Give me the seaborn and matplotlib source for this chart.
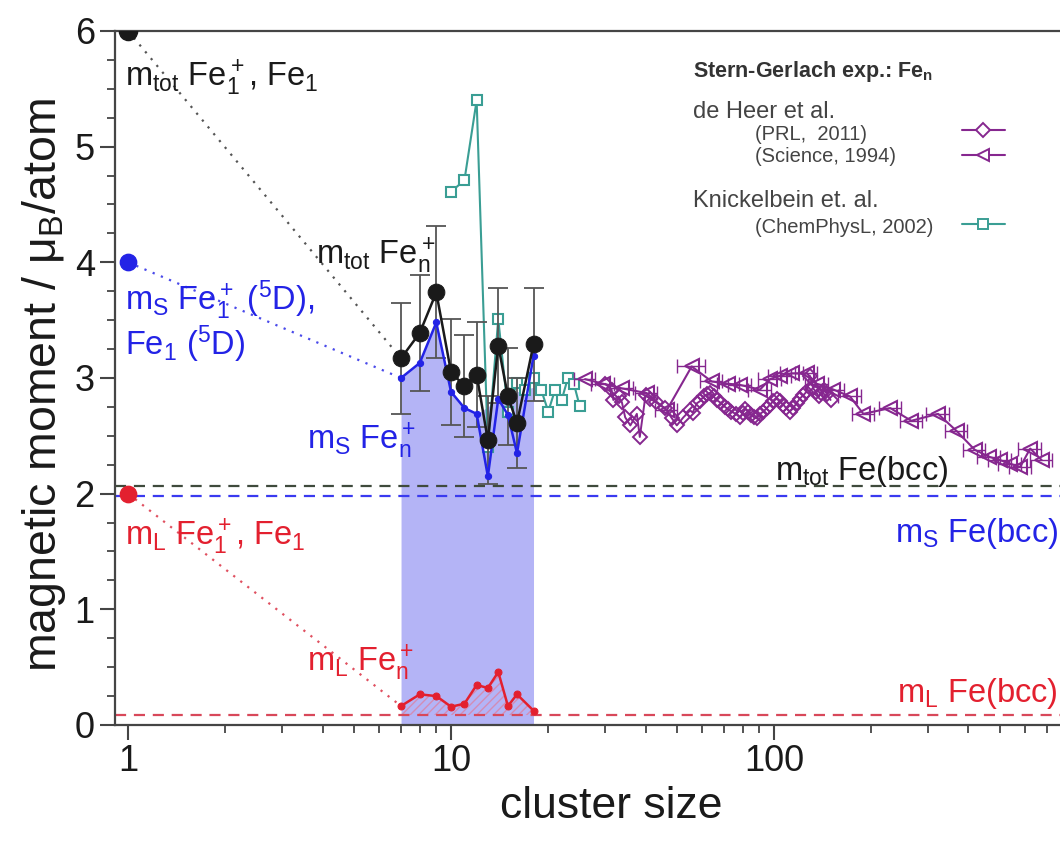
import numpy as np
import pandas as pd
import matplotlib
matplotlib.use("Agg")
import matplotlib.pyplot as plt
import seaborn as sns
from matplotlib.lines import Line2D
from matplotlib.ticker import FixedLocator, FuncFormatter, LogLocator, MultipleLocator, NullFormatter

# ---------------- data ----------------
n_atom = [1]
m_tot_atom = [6.0]
m_s_atom = [4.0]
m_l_atom = [2.0]

n_cluster = [7, 8, 9, 10, 11, 12, 13, 14, 15, 16, 18]
m_tot = [3.17, 3.39, 3.74, 3.05, 2.93, 3.03, 2.46, 3.28, 2.84, 2.61, 3.29]
m_tot_err = [0.48, 0.50, 0.57, 0.46, 0.44, 0.45, 0.38, 0.50, 0.42, 0.39, 0.49]
m_s = [3.00, 3.13, 3.48, 2.88, 2.74, 2.69, 2.15, 2.82, 2.68, 2.35, 3.19]
m_l = [0.164, 0.265, 0.25, 0.158, 0.184, 0.346, 0.32, 0.458, 0.164, 0.265, 0.124]
shade_top = [3.00, 3.13, 3.48, 2.88, 2.74, 2.69, 2.75, 2.82, 2.85, 2.88, 2.92]

bcc_tot = 2.07
bcc_s = 1.98
bcc_l = 0.086

n_knick = [10, 11, 12, 13, 14, 15, 16, 17, 18, 19, 20, 21, 22, 23, 24, 25]
m_knick = [4.61, 4.71, 5.40, 2.40, 3.51, 2.71, 2.96, 2.90, 3.00, 2.90, 2.71, 2.90, 2.81, 3.00, 2.95, 2.76]

n_prl = [30, 31.4, 31.8, 33, 33.8, 34.6, 35.9, 37.6, 38.4, 40, 41.4, 43, 46, 48.3, 50,
         52.4, 55, 56, 57.6, 59, 60.5, 62, 63.4, 65, 66.4, 68, 70.5, 72, 73.8, 76, 78.5,
         80, 81.5, 83.3, 85, 86.8, 88.5, 90.5, 92.7, 95, 97.2, 99.5, 101.9, 104, 106.8,
         109, 112, 114.5, 117.4, 120, 123.1, 126, 129, 132.2, 135, 137.5, 140, 142.6, 146, 149.6]
m_prl = [2.95, 2.90, 2.81, 2.84, 2.79, 2.66, 2.59, 2.69, 2.49, 2.85, 2.82, 2.79, 2.74, 2.65, 2.59,
         2.66, 2.72, 2.70, 2.78, 2.80, 2.84, 2.86, 2.87, 2.84, 2.81, 2.79, 2.75, 2.73, 2.71, 2.69, 2.66,
         2.70, 2.73, 2.71, 2.68, 2.66, 2.65, 2.69, 2.71, 2.74, 2.77, 2.80, 2.82, 2.80, 2.77,
         2.74, 2.71, 2.74, 2.78, 2.82, 2.85, 2.88, 3.02, 2.91, 2.88, 2.84, 2.87, 2.90, 2.86, 2.81]

n_sci = [26, 29.6, 33.8, 40.3, 46.5, 55.6, 64.1, 72.2, 78.5, 90.5, 97.2, 104.4, 113.5, 126.3,
         135.6, 152.7, 171.9, 189, 229, 266, 322, 368, 418, 462, 501, 537, 578, 621, 674]
m_sci = [2.99, 2.95, 2.91, 2.87, 2.72, 3.10, 2.97, 2.95, 2.94, 2.90, 2.99, 3.02, 3.04, 3.04,
         2.95, 2.90, 2.84, 2.69, 2.74, 2.63, 2.69, 2.54, 2.38, 2.32, 2.29, 2.26, 2.23, 2.39, 2.29]
xerr_sci = [2, 2.4, 2.7, 3.2, 3.7, 5.5, 5, 5.8, 6.3, 7.2, 7.8, 8.4, 9, 10,
            11, 12, 14, 15, 18, 21, 26, 29, 33, 37, 40, 43, 46, 50, 54]

# ---------------- style ----------------
sns.set_theme(style="ticks")
plt.rcParams["font.family"] = ["Liberation Sans", "DejaVu Sans"]
plt.rcParams["mathtext.fontset"] = "custom"
plt.rcParams["mathtext.rm"] = "Liberation Sans"
plt.rcParams["mathtext.it"] = "Liberation Sans:italic"
plt.rcParams["mathtext.bf"] = "Liberation Sans:bold"

BLACK = "#1a1a1a"
BLUE = "#2323e6"
RED = "#e3202f"
TEAL = "#3a9e94"
PURPLE = "#86278f"
SHADE = "#b4b4f6"
GRAY = "#454545"

fig = plt.figure(figsize=(10.6, 8.44), dpi=100)
ax = fig.add_axes([0.1085, 0.141, 0.8915, 0.8223])
ax.set_xscale("log")

# shaded areas
ax.fill_between(n_cluster, 0, shade_top, color=SHADE, linewidth=0, zorder=1)
ax.fill_between(n_cluster, bcc_l, m_l, facecolor="none", edgecolor=(0.9, 0.45, 0.55, 0.6),
                hatch="////", linewidth=0, zorder=1.5)

# bulk reference lines
ax.axhline(bcc_tot, color="#3f4a3c", ls=(0, (5, 3.5)), lw=1.6, zorder=2)
ax.axhline(bcc_s, color="#3a3af0", ls=(0, (5, 3.5)), lw=1.6, zorder=2)
ax.axhline(bcc_l, color="#d8485a", ls=(0, (5, 3.5)), lw=1.6, zorder=2)

# dotted connectors atom -> n=7
sns.lineplot(x=[n_atom[0], n_cluster[0]], y=[m_tot_atom[0], m_tot[0]], ax=ax, color="#555555",
             ls=(0, (1, 3)), lw=1.6, sort=False, estimator=None, legend=False)
sns.lineplot(x=[n_atom[0], n_cluster[0]], y=[m_s_atom[0], m_s[0]], ax=ax, color="#4a4aea",
             ls=(0, (1, 3)), lw=1.6, sort=False, estimator=None, legend=False)
sns.lineplot(x=[n_atom[0], n_cluster[0]], y=[m_l_atom[0], m_l[0]], ax=ax, color="#e05060",
             ls=(0, (1, 3)), lw=1.6, sort=False, estimator=None, legend=False)

# Knickelbein
sns.lineplot(x=n_knick, y=m_knick, ax=ax, color=TEAL, marker="s", markersize=7,
             markerfacecolor="white", markeredgecolor=TEAL, markeredgewidth=1.5,
             lw=1.5, sort=False, estimator=None, legend=False, zorder=3)

# de Heer PRL 2011
sns.lineplot(x=n_prl, y=m_prl, ax=ax, color=PURPLE, marker="D", markersize=7.5,
             markerfacecolor="none", markeredgecolor=PURPLE, markeredgewidth=1.4,
             lw=1.4, sort=False, estimator=None, legend=False, zorder=3)
# de Heer Science 1994
ax.errorbar(n_sci, m_sci, xerr=xerr_sci, fmt="none", ecolor=PURPLE, elinewidth=1.0,
            capsize=5, capthick=1.0, zorder=3)
sns.lineplot(x=n_sci, y=m_sci, ax=ax, color=PURPLE, marker="<", markersize=10,
             markerfacecolor="none", markeredgecolor=PURPLE, markeredgewidth=1.5,
             lw=1.5, sort=False, estimator=None, legend=False, zorder=3)

# cluster data
ax.errorbar(n_cluster, m_tot, yerr=m_tot_err, fmt="none", ecolor="#555555", elinewidth=1.3,
            capsize=7, capthick=1.3, zorder=4)
sns.lineplot(x=n_cluster, y=m_s, ax=ax, color=BLUE, marker="o", markersize=4.5,
             markeredgecolor=BLUE, lw=1.8, sort=False, estimator=None, legend=False, zorder=5)
sns.lineplot(x=n_cluster, y=m_l, ax=ax, color=RED, marker="o", markersize=5,
             markeredgecolor=RED, lw=1.8, sort=False, estimator=None, legend=False, zorder=5)
sns.lineplot(x=n_cluster, y=m_tot, ax=ax, color=BLACK, marker="o", markersize=12,
             markeredgecolor=BLACK, lw=1.8, sort=False, estimator=None, legend=False, zorder=6)

# atoms
sns.scatterplot(x=n_atom, y=m_tot_atom, ax=ax, color=BLACK, s=170, edgecolor=BLACK, zorder=7, legend=False)
sns.scatterplot(x=n_atom, y=m_s_atom, ax=ax, color=BLUE, s=140, edgecolor=BLUE, zorder=7, legend=False)
sns.scatterplot(x=n_atom, y=m_l_atom, ax=ax, color=RED, s=140, edgecolor=RED, zorder=7, legend=False)

# ---------------- axes ----------------
ax.set_xlim(0.911, 768)
ax.set_ylim(0, 6)
ax.xaxis.set_major_locator(FixedLocator([1, 10, 100]))
ax.xaxis.set_major_formatter(FuncFormatter(lambda v, p: f"{v:g}"))
ax.xaxis.set_minor_locator(LogLocator(base=10, subs=np.arange(2, 10), numticks=20))
ax.xaxis.set_minor_formatter(NullFormatter())
ax.yaxis.set_major_locator(MultipleLocator(1))
ax.yaxis.set_minor_locator(MultipleLocator(0.25))
ax.tick_params(which="major", direction="out", length=10.5, width=1.5, labelsize=26, colors=GRAY,
               labelcolor=BLACK)
ax.tick_params(axis="x", which="major", pad=3)
ax.tick_params(axis="y", which="major", pad=4)
ax.tick_params(which="minor", direction="out", length=6, width=1.3, colors=GRAY)
ax.tick_params(axis="x", which="both", top=False)
ax.tick_params(axis="y", which="both", right=False)
for side in ["left", "bottom", "top"]:
    ax.spines[side].set_linewidth(1.6)
    ax.spines[side].set_color(GRAY)
ax.spines["right"].set_visible(False)
ax.set_xlabel("cluster size", fontsize=32, color=BLACK)
ax.set_ylabel("magnetic moment / μ$_{\\rm B}$/atom", fontsize=33.5, color=BLACK)
ax.xaxis.set_label_coords(0.525, -0.088)
ax.yaxis.set_label_coords(-0.050, 0.49)

# ---------------- annotations ----------------
fs = 23.5
ax.text(0.98, 5.52, r"m$_{\rm tot}$ Fe$_{\rm 1}^{\rm +}$, Fe$_{\rm 1}$", fontsize=fs, color=BLACK, va="baseline")
ax.text(3.82, 3.98, r"m$_{\rm tot}$ Fe$_{\rm n}^{\rm +}$", fontsize=fs, color=BLACK, va="baseline")
ax.text(0.98, 3.59, r"m$_{\rm S}$ Fe$_{\rm 1}^{\rm +}$ ($^{\rm 5}$D),", fontsize=fs, color=BLUE, va="baseline")
ax.text(0.98, 3.20, r"Fe$_{\rm 1}$ ($^{\rm 5}$D)", fontsize=fs, color=BLUE, va="baseline")
ax.text(3.57, 2.38, r"m$_{\rm S}$ Fe$_{\rm n}^{\rm +}$", fontsize=fs, color=BLUE, va="baseline")
ax.text(0.98, 1.55, r"m$_{\rm L}$ Fe$_{\rm 1}^{\rm +}$, Fe$_{\rm 1}$", fontsize=fs, color=RED, va="baseline")
ax.text(3.57, 0.46, r"m$_{\rm L}$ Fe$_{\rm n}^{\rm +}$", fontsize=fs, color=RED, va="baseline")
ax.text(100.7, 2.12, r"m$_{\rm tot}$ Fe(bcc)", fontsize=fs, color=BLACK, va="baseline")
ax.text(0.998, 1.58, r"m$_{\rm S}$ Fe(bcc)", fontsize=fs, color=BLUE, va="baseline", ha="right",
        transform=ax.get_yaxis_transform())
ax.text(0.998, 0.20, r"m$_{\rm L}$ Fe(bcc)", fontsize=fs, color=RED, va="baseline", ha="right",
        transform=ax.get_yaxis_transform())

# ---------------- legend ----------------
LG = "#444444"
ax.text(0.6116, 0.9342, r"Stern-Gerlach exp.: Fe$_{\bf n}$", transform=ax.transAxes, fontsize=15.5,
        fontweight="bold", color="#333333", va="baseline")
ax.text(0.6116, 0.8742, "de Heer et al.", transform=ax.transAxes, fontsize=17, color=LG, va="baseline")
ax.text(0.6772, 0.8429, "(PRL,  2011)", transform=ax.transAxes, fontsize=14.5, color=LG, va="baseline")
ax.text(0.6772, 0.8117, "(Science, 1994)", transform=ax.transAxes, fontsize=14.5, color=LG, va="baseline")
ax.text(0.6116, 0.7468, "Knickelbein et. al.", transform=ax.transAxes, fontsize=17, color=LG, va="baseline")
ax.text(0.6772, 0.7094, "(ChemPhysL, 2002)", transform=ax.transAxes, fontsize=14.5, color=LG, va="baseline")

h_d = Line2D([], [], color=PURPLE, marker="D", ms=7, mfc="white", mec=PURPLE, mew=1.4, lw=1.5)
h_t = Line2D([], [], color=PURPLE, marker="<", ms=8.5, mfc="white", mec=PURPLE, mew=1.4, lw=1.5)
h_s = Line2D([], [], color=TEAL, marker="s", ms=6.5, mfc="white", mec=TEAL, mew=1.4, lw=1.5)
leg_kw = dict(frameon=False, loc="center", fontsize=14.5, handlelength=2.1, handletextpad=0,
              borderpad=0, borderaxespad=0)
legA = ax.legend(handles=[h_d], labels=[""], bbox_to_anchor=(0.919, 0.8549), **leg_kw)
ax.add_artist(legA)
legB = ax.legend(handles=[h_t], labels=[""], bbox_to_anchor=(0.919, 0.8189), **leg_kw)
ax.add_artist(legB)
legC = ax.legend(handles=[h_s], labels=[""], bbox_to_anchor=(0.919, 0.719), **leg_kw)

fig.savefig("out.png", dpi=100)
